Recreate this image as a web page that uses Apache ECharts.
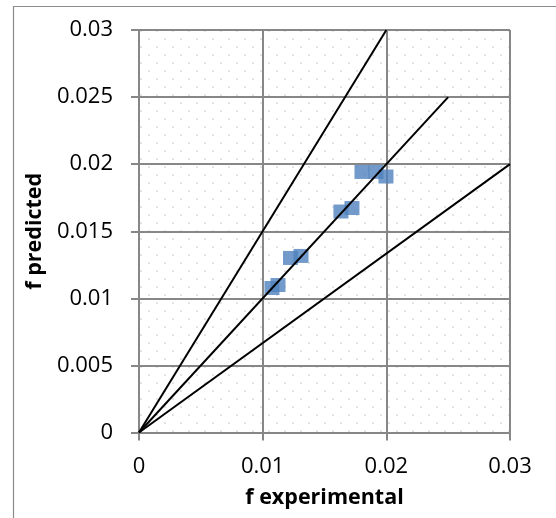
<!DOCTYPE html>
<html>
<head>
<meta charset="utf-8">
<script src="https://cdn.jsdelivr.net/npm/echarts@6/dist/echarts.min.js"></script>
<style>
html,body{margin:0;padding:0;background:#fff;}
#c{width:556px;height:518px;}
</style>
</head>
<body>
<div id="c"></div>
<script>
// Data
const fExperimental = [0.01075, 0.01124, 0.01225, 0.01310, 0.01633, 0.01722, 0.01803, 0.01916, 0.01997];
const fPredicted    = [0.01077, 0.01099, 0.01301, 0.01316, 0.01647, 0.01673, 0.01942, 0.01942, 0.01908];
// Reference lines: +50%, perfect agreement, -33%
const upperLineX = [0, 0.02];   const upperLineY = [0, 0.03];
const equalLineX = [0, 0.025];  const equalLineY = [0, 0.025];
const lowerLineX = [0, 0.03];   const lowerLineY = [0, 0.02];
const xTicks = [0, 0.01, 0.02, 0.03];
const yTicks = [0, 0.005, 0.01, 0.015, 0.02, 0.025, 0.03];
const xTitle = 'f experimental';
const yTitle = 'f predicted';

function pairs(xs, ys){ return xs.map((x,i)=>[x, ys[i]]); }

// dotted pattern for plot area
const tile = document.createElement('canvas');
tile.width = 16; tile.height = 16;
const tctx = tile.getContext('2d');
tctx.fillStyle = '#ffffff'; tctx.fillRect(0,0,16,16);
tctx.fillStyle = '#e4e4e4';
tctx.fillRect(12,14,2,2);
tctx.fillRect(4,6,2,2);

const FONT = 'Open Sans';
const gridColor = '#878787';

const chart = echarts.init(document.getElementById('c'), null, {renderer:'canvas'});
chart.setOption({
  animation: false,
  backgroundColor: '#fff',
  textStyle: {fontFamily: FONT},
  graphic: [{
    type: 'rect', silent: true, z: -10,
    shape: {x: 13.5, y: 6.5, width: 700, height: 700},
    style: {fill: 'none', stroke: '#8c8c8c', lineWidth: 1.2}
  }],
  grid: {left: 139, right: 46, top: 30, bottom: 85.5, show: true, borderWidth: 0,
         backgroundColor: {image: tile, repeat: 'repeat'}},
  xAxis: {
    type: 'value', min: xTicks[0], max: xTicks[xTicks.length-1], interval: 0.01,
    name: xTitle, nameLocation: 'middle', nameGap: 54,
    nameTextStyle: {fontFamily: FONT, fontSize: 21.5, fontWeight: 'bold', color: '#000'},
    axisLine: {show: true, lineStyle: {color: gridColor, width: 2}},
    axisTick: {show: true, inside: false, length: 8, lineStyle: {color: gridColor, width: 2}},
    splitLine: {show: true, lineStyle: {color: gridColor, width: 2}},
    axisLabel: {fontFamily: FONT, fontSize: 22, color: '#000', margin: 23,
      formatter: v => { const t = xTicks.find(k => Math.abs(k - v) < 1e-9); return t === undefined ? '' : String(t); }}
  },
  yAxis: {
    type: 'value', min: yTicks[0], max: yTicks[yTicks.length-1], interval: 0.005,
    name: yTitle, nameLocation: 'middle', nameGap: 93, nameRotate: 90,
    nameTextStyle: {fontFamily: FONT, fontSize: 21.5, fontWeight: 'bold', color: '#000'},
    axisLine: {show: true, lineStyle: {color: gridColor, width: 2}},
    axisTick: {show: true, inside: false, length: 8, lineStyle: {color: gridColor, width: 2}},
    splitLine: {show: true, lineStyle: {color: gridColor, width: 2}},
    axisLabel: {fontFamily: FONT, fontSize: 22, color: '#000', margin: 26,
      formatter: v => { const t = yTicks.find(k => Math.abs(k - v) < 1e-9); return t === undefined ? '' : String(t); }}
  },
  series: [
    {type: 'scatter', data: pairs(fExperimental, fPredicted), symbol: 'rect', symbolSize: [15, 14],
     itemStyle: {color: '#4F81BD'}, z: 2},
    {type: 'line', data: pairs(upperLineX, upperLineY), symbol: 'none', lineStyle: {color: '#000', width: 2}, z: 3},
    {type: 'line', data: pairs(equalLineX, equalLineY), symbol: 'none', lineStyle: {color: '#000', width: 2}, z: 3},
    {type: 'line', data: pairs(lowerLineX, lowerLineY), symbol: 'none', lineStyle: {color: '#000', width: 2}, z: 3}
  ]
});
</script>
</body>
</html>
